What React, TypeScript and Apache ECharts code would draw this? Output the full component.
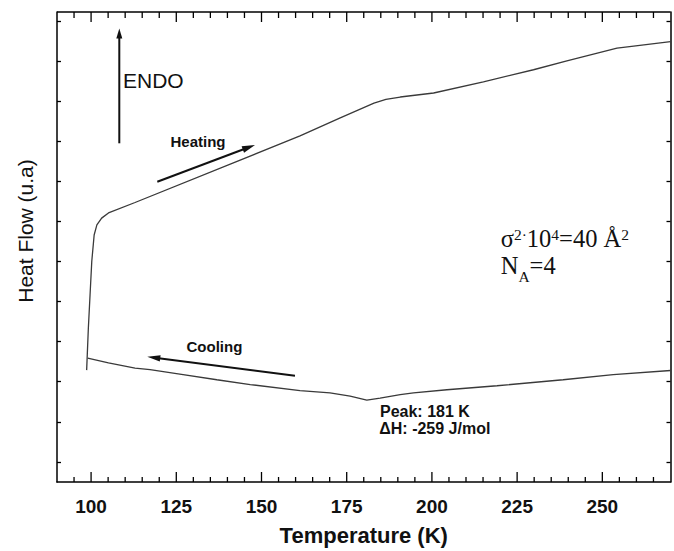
import React, { useEffect, useRef } from "react";
import * as echarts from "echarts";

// Heating branch (temperature K, heat flow a.u.)
const heatingT = [98.7, 99.2, 99.7, 100.2, 100.9, 101.7, 103.1, 105.1, 112.9, 161.3, 173.1, 183.0, 186.5, 190.7, 200.5, 215.1, 229.8, 239.6, 254.3, 259.2, 270.0];
const heatingY = [2.79, 3.84, 4.67, 5.5, 6.16, 6.41, 6.58, 6.71, 6.97, 8.63, 9.08, 9.45, 9.54, 9.6, 9.7, 9.98, 10.28, 10.5, 10.82, 10.87, 10.98];

// Cooling branch
const coolingT = [99.0, 105.1, 112.9, 117.3, 127.0, 136.9, 146.7, 161.3, 170.1, 176.0, 180.9, 184.8, 190.7, 194.6, 204.4, 219.1, 238.5, 253.2, 270.0];
const coolingY = [3.09, 2.97, 2.84, 2.8, 2.68, 2.55, 2.43, 2.28, 2.22, 2.14, 2.04, 2.09, 2.18, 2.22, 2.3, 2.4, 2.55, 2.68, 2.78];

const xTickLabels = [100, 125, 150, 175, 200, 225, 250];
const xTickValues = [95, 100, 105, 110, 115, 120, 125, 130, 135, 140, 145, 150, 155, 160, 165, 170, 175, 180, 185, 190, 195, 200, 205, 210, 215, 220, 225, 230, 235, 240, 245, 250, 255, 260, 265];
const yTicks = [0.5, 1.5, 2.5, 3.5, 4.5, 5.5, 6.5, 7.5, 8.5, 9.5, 10.5, 11.5];

const X_MIN = 90;
const X_MAX = 270;
const Y_MIN = 0;
const Y_MAX = 11.72;
const MAJOR_EVERY = 25;

const SANS = "'Liberation Sans', Arial, Helvetica, sans-serif";
const SERIF = "'Liberation Serif', 'Times New Roman', Times, serif";

function arrow(x1: number, y1: number, x2: number, y2: number, head: number, half: number, width: number, color: string) {
  const dx = x2 - x1;
  const dy = y2 - y1;
  const len = Math.hypot(dx, dy);
  const ux = dx / len;
  const uy = dy / len;
  const bx = x2 - ux * head;
  const by = y2 - uy * head;
  const nx = -uy;
  const ny = ux;
  return [
    {
      type: "line",
      shape: { x1, y1, x2: bx + ux * 1.5, y2: by + uy * 1.5 },
      style: { stroke: color, lineWidth: width },
      silent: true,
    },
    {
      type: "polygon",
      shape: {
        points: [
          [x2, y2],
          [bx + nx * half, by + ny * half],
          [bx - nx * half, by - ny * half],
        ],
      },
      style: { fill: color },
      silent: true,
    },
  ];
}

function plainText(text: string, x: number, y: number, fontSize: number, weight: string, family: string) {
  return {
    type: "text",
    x,
    y,
    silent: true,
    style: {
      text,
      fontSize,
      fontWeight: weight,
      fontFamily: family,
      fill: "#111",
      align: "left",
      textAlign: "left",
      verticalAlign: "middle",
      textVerticalAlign: "middle",
    },
  };
}

export default function App() {
  const ref = useRef<HTMLDivElement>(null);

  useEffect(() => {
    if (!ref.current) return;
    const chart = echarts.init(ref.current, undefined, { renderer: "svg" });

    const axisLineStyle = { color: "#000", width: 1.5 };
    const tickStyle = { color: "#000", width: 1.3 };

    const option: any = {
      animation: false,
      backgroundColor: "#fff",
      grid: { left: 57, top: 12, width: 613.5, height: 470.4, containLabel: false },
      xAxis: [
        {
          type: "value",
          min: X_MIN,
          max: X_MAX,
          position: "bottom",
          splitLine: { show: false },
          axisLine: { show: true, onZero: false, lineStyle: axisLineStyle },
          axisTick: { show: false },
          axisLabel: {
            show: true,
            customValues: xTickLabels,
            margin: 15,
            fontSize: 19,
            fontWeight: "bold",
            fontFamily: SANS,
            color: "#111",
          },
          name: "Temperature (K)",
          nameLocation: "middle",
          nameGap: 42,
          nameTextStyle: { fontSize: 22, fontWeight: "bold", fontFamily: SANS, color: "#111" },
        },
      ],
      yAxis: [
        {
          type: "value",
          min: Y_MIN,
          max: Y_MAX,
          position: "left",
          splitLine: { show: false },
          axisLabel: { show: false },
          axisLine: { show: true, onZero: false, lineStyle: axisLineStyle },
          axisTick: { show: true, inside: true, length: 4, customValues: yTicks, lineStyle: tickStyle },
        },
        {
          type: "value",
          min: Y_MIN,
          max: Y_MAX,
          position: "right",
          splitLine: { show: false },
          axisLabel: { show: false },
          axisLine: { show: true, onZero: false, lineStyle: axisLineStyle },
          axisTick: { show: true, inside: true, length: 4, customValues: yTicks, lineStyle: tickStyle },
        },
      ],
      series: [
        {
          // tick marks on the bottom and top frame, placed by the x scale
          type: "custom",
          name: "xTicks",
          xAxisIndex: 0,
          yAxisIndex: 0,
          silent: true,
          data: xTickValues.map((v) => [v, Y_MIN]),
          renderItem: (params: any, api: any) => {
            const v = api.value(0);
            const major = v % MAJOR_EVERY === 0;
            const bottom = api.coord([v, Y_MIN]);
            const top = api.coord([v, Y_MAX]);
            const lenB = major ? 10 : 5;
            const lenT = major ? 10 : 6;
            return {
              type: "group",
              children: [
                {
                  type: "line",
                  shape: { x1: bottom[0], y1: bottom[1], x2: bottom[0], y2: bottom[1] - lenB },
                  style: { stroke: "#000", lineWidth: 1.3 },
                },
                {
                  type: "line",
                  shape: { x1: top[0], y1: top[1], x2: top[0], y2: top[1] + lenT },
                  style: { stroke: "#000", lineWidth: 1.3 },
                },
              ],
            };
          },
        },
        {
          type: "line",
          name: "Heating",
          xAxisIndex: 0,
          yAxisIndex: 0,
          data: heatingT.map((t, i) => [t, heatingY[i]]),
          symbol: "none",
          showSymbol: false,
          lineStyle: { color: "#3a3a3a", width: 1.3 },
        },
        {
          type: "line",
          name: "Cooling",
          xAxisIndex: 0,
          yAxisIndex: 0,
          data: coolingT.map((t, i) => [t, coolingY[i]]),
          symbol: "none",
          showSymbol: false,
          lineStyle: { color: "#3a3a3a", width: 1.3 },
        },
      ],
      graphic: [
        {
          // top frame line
          type: "line",
          shape: { x1: 57, y1: 12, x2: 670.5, y2: 12 },
          style: { stroke: "#000", lineWidth: 1.5 },
          silent: true,
        },
        {
          type: "text",
          x: 25,
          y: 231,
          rotation: Math.PI / 2,
          silent: true,
          style: {
            text: "Heat Flow (u.a)",
            fontSize: 21,
            fontFamily: SANS,
            fill: "#111",
            align: "center",
            textAlign: "center",
            verticalAlign: "middle",
            textVerticalAlign: "middle",
          },
        },
        ...arrow(119.3, 143.3, 119.3, 28.5, 10, 3, 2, "#111"),
        plainText("ENDO", 123, 80, 21, "normal", SANS),
        ...arrow(157.3, 181.7, 255, 145, 13, 3.5, 2, "#111"),
        plainText("Heating", 170.5, 141, 15, "bold", SANS),
        ...arrow(295, 375.7, 147.3, 356.7, 13, 3.2, 2, "#111"),
        plainText("Cooling", 186.5, 346, 15, "bold", SANS),
        plainText("Peak: 181 K", 380, 411, 16, "bold", SANS),
        plainText("ΔH: -259 J/mol", 379.3, 428.5, 16, "bold", SANS),
        {
          type: "text",
          x: 500.7,
          y: 226.4,
          silent: true,
          style: {
            text: "{m|σ}{s|2·}{m|10}{s|4}{m|=40 Å}{s|2}",
            fontFamily: SERIF,
            fill: "#111",
            align: "left",
            textAlign: "left",
            verticalAlign: "top",
            textVerticalAlign: "top",
            rich: {
              m: { fontSize: 24.5, fontFamily: SERIF, fill: "#111", verticalAlign: "top", lineHeight: 21 },
              s: { fontSize: 15.5, fontFamily: SERIF, fill: "#111", verticalAlign: "top", lineHeight: 14 },
            },
          },
        },
        {
          type: "text",
          x: 500.7,
          y: 253.4,
          silent: true,
          style: {
            text: "{m|N}{b|A}{m|=4}",
            fontFamily: SERIF,
            fill: "#111",
            align: "left",
            textAlign: "left",
            verticalAlign: "top",
            textVerticalAlign: "top",
            rich: {
              m: { fontSize: 24.5, fontFamily: SERIF, fill: "#111", verticalAlign: "top" },
              b: { fontSize: 15.5, fontFamily: SERIF, fill: "#111", verticalAlign: "top", padding: [15, 0, 0, 0] },
            },
          },
        },
      ],
    };

    chart.setOption(option);
    return () => {
      chart.dispose();
    };
  }, []);

  return (
    <div
      ref={ref}
      style={{ position: "fixed", left: 0, top: 0, width: 674, height: 551, background: "#fff" }}
    />
  );
}
